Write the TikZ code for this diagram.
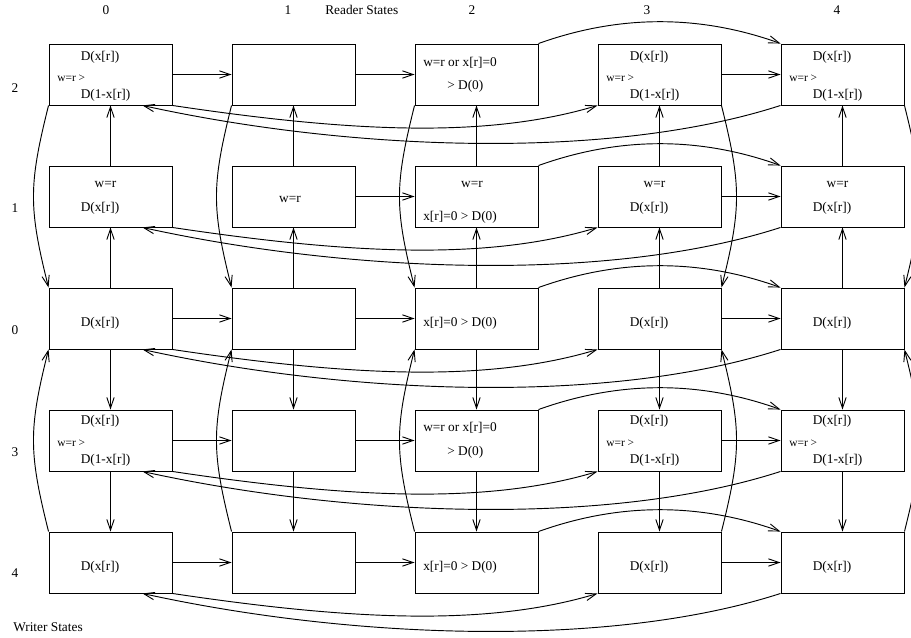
\documentclass[tikz,border=0pt]{standalone}
\usepackage{fontspec}
\setmainfont{Liberation Serif}
\usetikzlibrary{arrows.meta}
\begin{document}
\begin{tikzpicture}[x=0.75pt,y=-0.75pt,
  box/.style={draw, line width=0.7pt, minimum width=92.25pt, minimum height=45.75pt, inner sep=0pt},
  edge/.style={line width=0.7pt, -{Straight Barb[length=8pt,width=5.5pt]}},
  lbl/.style={inner sep=0pt, anchor=base, font=\fontsize{10}{12}\selectfont},
  lblw/.style={inner sep=0pt, anchor=base west, font=\fontsize{10}{12}\selectfont},
  small/.style={inner sep=0pt, anchor=base west, font=\fontsize{8.6}{10}\selectfont}]
\useasboundingbox (0,0) rectangle (911,638);

% boxes: b<row><col>, rows top to bottom (labels 2,1,0,3,4)
\foreach \j in {0,...,4}{
  \foreach \i in {0,...,4}{
    \node[box] (b\j\i) at ({110.5+183*\i},{74.5+122*\j}) {};
  }
}

% headers
\node[lbl] (h0) at (106,14.5) {0};
\node[lbl] (h1) at (288,14.5) {1};
\node[lblw] (hr) at (325,14.5) {Reader States};
\node[lbl] (h2) at (472,14.5) {2};
\node[lbl] (h3) at (647,14.5) {3};
\node[lbl] (h4) at (837,14.5) {4};
\node[lbl] (v0) at (15,92.8) {2};
\node[lbl] (v1) at (15,212.8) {1};
\node[lbl] (v2) at (15,334.5) {0};
\node[lbl] (v3) at (15,456) {3};
\node[lbl] (v4) at (15,577.8) {4};
\node[lblw] (ws) at (13,631) {Writer States};

% row "2" and row "3" texts
\foreach \i/\L in {0/49,3/598,4/781}{
  \node[lblw] (a0\i) at ({\L+31.5},60.5) {D(x[r])};
  \node[small] (s0\i) at ({\L+8},82) {w=r >};
  \node[lblw] (c0\i) at ({\L+31.5},98.5) {D(1-x[r])};
  \node[lblw] (a3\i) at ({\L+31.5},424.5) {D(x[r])};
  \node[small] (s3\i) at ({\L+8},446.5) {w=r >};
  \node[lblw] (c3\i) at ({\L+31.5},463) {D(1-x[r])};
  % row "1"
  \node[lbl] (a1\i) at ({\L+56.5},188) {w=r};
  \node[lblw] (c1\i) at ({\L+31.5},211.5) {D(x[r])};
  % rows "0" and "4"
  \node[lblw] (a2\i) at ({\L+31.5},326) {D(x[r])};
  \node[lblw] (a4\i) at ({\L+31.5},570.5) {D(x[r])};
}
\node[lblw] (a02) at (423,66.5) {w=r or x[r]=0};
\node[lblw] (c02) at (447,89.5) {> D(0)};
\node[lblw] (a32) at (423,431.5) {w=r or x[r]=0};
\node[lblw] (c32) at (447,455.5) {> D(0)};
\node[lbl] (a11) at (290,203) {w=r};
\node[lbl] (a12) at (472,188) {w=r};
\node[lblw] (c12) at (423,220.5) {x[r]=0 > D(0)};
\node[lblw] (a22) at (423,326) {x[r]=0 > D(0)};
\node[lblw] (a42) at (423,570.5) {x[r]=0 > D(0)};

% horizontal arrows
\foreach \j in {0,2,3,4}{ \draw[edge] (b\j0.east) -- (b\j1.west); }
\foreach \j in {0,...,4}{
  \draw[edge] (b\j1.east) -- (b\j2.west);
  \draw[edge] (b\j3.east) -- (b\j4.west);
  \draw[edge] (b\j2.north east) .. controls +(81,-29) and +(-81,-29) .. (b\j4.north west);
  \draw[edge] (b\j0.south east) .. controls +(180,27) and +(-110,33) .. (b\j3.south west);
  \draw[edge] (b\j4.south west) .. controls +(-170,55) and +(210,46) .. ([xshift=-22.5pt]b\j0.south east);
}
% vertical arrows
\foreach \i in {0,...,4}{
  \draw[edge] (b1\i.north) -- (b0\i.south);
  \draw[edge] (b2\i.north) -- (b1\i.south);
  \draw[edge] (b2\i.south) -- (b3\i.north);
  \draw[edge] (b3\i.south) -- (b4\i.north);
}
% long vertical curves
\foreach \i in {0,1,2}{
  \draw[edge] (b0\i.south west) .. controls +(-20,80) and +(-20,-80) .. (b2\i.north west);
  \draw[edge] (b4\i.north west) .. controls +(-20,-80) and +(-20,80) .. (b2\i.south west);
}
\foreach \i in {3,4}{
  \draw[edge] (b0\i.south east) .. controls +(20,80) and +(20,-80) .. (b2\i.north east);
  \draw[edge] (b4\i.north east) .. controls +(20,-80) and +(20,80) .. (b2\i.south east);
}
\end{tikzpicture}
\end{document}
